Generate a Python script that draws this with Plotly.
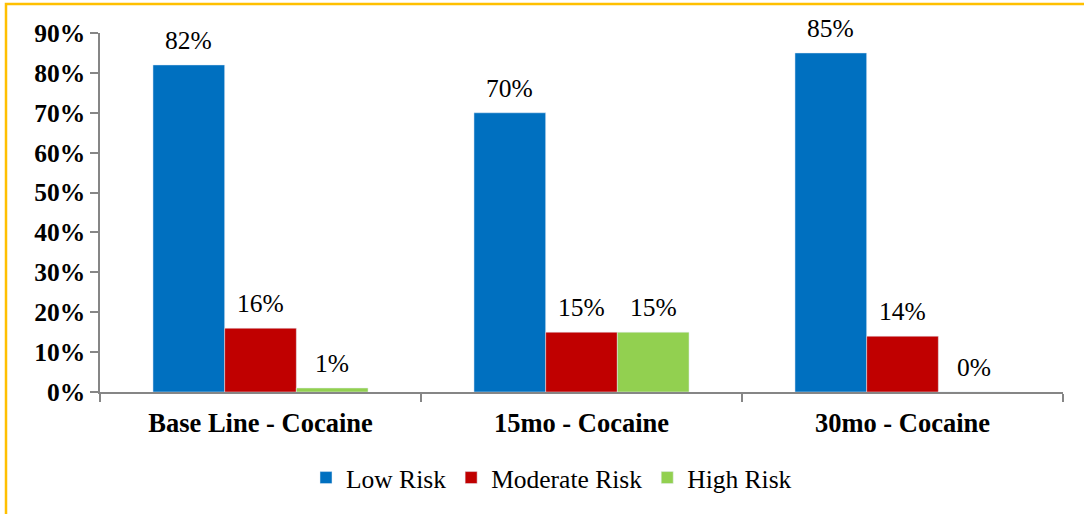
import plotly.graph_objects as go

categories = ["Base Line - Cocaine", "15mo - Cocaine", "30mo - Cocaine"]
low_risk = [0.82, 0.70, 0.85]
moderate_risk = [0.16, 0.15, 0.14]
high_risk = [0.01, 0.15, 0.00]
series_names = ["Low Risk", "Moderate Risk", "High Risk"]
colors = ["#0070C0", "#C00000", "#92D050"]
y_ticks = [0, 0.1, 0.2, 0.3, 0.4, 0.5, 0.6, 0.7, 0.8, 0.9]

FS = 25.5
BARGAP = 0.33
series = [low_risk, moderate_risk, high_risk]
fig = go.Figure()
for name, vals, col in zip(series_names, series, colors):
    fig.add_trace(go.Bar(x=categories, y=vals, name=name, marker_color=col))

# value labels above bars
bw = (1 - BARGAP) / len(series)
for si, vals in enumerate(series):
    off = (si - (len(series) - 1) / 2) * bw
    for ci, v in enumerate(vals):
        fig.add_annotation(x=ci + off, y=v, xref="x", yref="y",
                           text=f"{round(v*100)}%", showarrow=False,
                           yanchor="bottom", yshift=8,
                           font=dict(family="Liberation Serif", size=FS, color="black"))

L, R, T, B = 100, 21, 33, 122
W, H = 1084, 514
pw = W - L - R
ph = H - T - B

fig.update_layout(
    width=W, height=H,
    margin=dict(l=L, r=R, t=T, b=B, autoexpand=False),
    paper_bgcolor="white", plot_bgcolor="white",
    barmode="group", bargap=BARGAP, bargroupgap=0,
    font=dict(family="Liberation Serif", color="black"),
    showlegend=True,
    legend=dict(orientation="h", x=0.5 - 30 / pw, xanchor="center",
                y=(392 - 478) / ph, yanchor="middle",
                font=dict(family="Liberation Serif", size=FS, color="black"),
                itemwidth=30, traceorder="normal"),
)
fig.update_yaxes(
    range=[0, 0.9], tickvals=y_ticks, ticktext=[f"{round(v*100)}%" for v in y_ticks],
    showgrid=False, showline=True, linecolor="#868686", linewidth=1.5,
    ticks="outside", ticklen=8, tickcolor="#868686", tickwidth=1.5,
    tickfont=dict(family="Liberation Serif", size=FS, color="black", weight="bold"),
    zeroline=False,
)
fig.update_xaxes(
    showline=True, linecolor="#868686", linewidth=1.5,
    ticks="outside", tickson="boundaries", ticklen=8, tickcolor="#868686", tickwidth=1.5,
    tickfont=dict(family="Liberation Serif", size=26.5, color="black", weight="bold"),
    ticklabelstandoff=6,
)
fig.add_shape(type="rect", xref="paper", yref="paper",
              x0=(6 - L) / pw, x1=1.2, y0=-0.6, y1=(392 - 4) / ph,
              line=dict(color="#FFC000", width=2.5), layer="below")

fig.write_html("out.html", config={"displayModeBar": False},
               post_script="document.body.style.margin='0';document.body.style.overflow='hidden';")
